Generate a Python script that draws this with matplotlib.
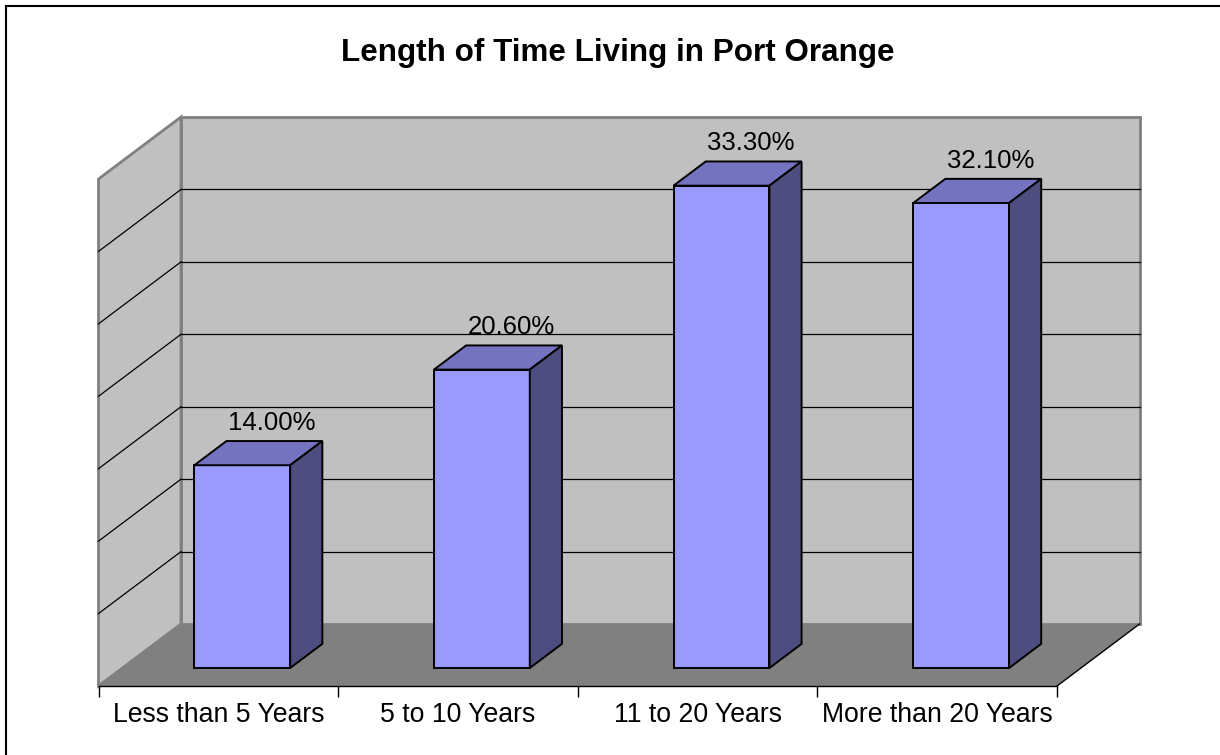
import numpy as np
import matplotlib
matplotlib.use("Agg")
import matplotlib.pyplot as plt
from matplotlib.patches import Polygon
from matplotlib.transforms import IdentityTransform

plt.rcParams["font.family"] = ["Liberation Sans", "DejaVu Sans"]

# ── Data ────────────────────────────────────────────────────────────────────
categories = ["Less than 5 Years", "5 to 10 Years", "11 to 20 Years", "More than 20 Years"]
values     = [14.0, 20.6, 33.3, 32.1]
labels     = ["14.00%", "20.60%", "33.30%", "32.10%"]
title      = "Length of Time Living in Port Orange"

# ── Style / pseudo-3D geometry ──────────────────────────────────────────────
W, H, DPI = 1220, 755, 100
DEPTH_DX, DEPTH_DY = 82.5, 62.0      # px shift from front plane to back wall
D0, D1 = 0.29, 0.68                  # bar front / back as fraction of depth
HALF_W = 0.20                        # half bar width in category units
YMAX, YSTEP = 35, 5

FRONT, TOP, SIDE = "#9999FF", "#7373C0", "#4D4D80"
WALL, FLOOR, WALL_EDGE = "#C0C0C0", "#808080", "#808080"

fig = plt.figure(figsize=(W / DPI, H / DPI), dpi=DPI)
# axes = front plane of the floor/left wall
ax = fig.add_axes([98.5 / W, (H - 686) / H, (1057 - 98.5) / W, 507 / H])
n = len(categories)
ax.set_xlim(-0.5, n - 0.5)
ax.set_ylim(0, YMAX)
ax.patch.set_visible(False)
for s in ("top", "right", "left"):
    ax.spines[s].set_visible(False)
ax.spines["bottom"].set_linewidth(1.0)
ax.spines["bottom"].set_zorder(6)
ax.set_yticks([])
ax.set_xticks(np.arange(n + 1) - 0.5)
ax.set_xticklabels([])
ax.set_xticks(np.arange(n), minor=True)
ax.set_xticklabels(categories, minor=True, fontsize=19.2)
ax.tick_params(axis="x", which="major", length=8, width=1.0, direction="out")
ax.tick_params(axis="x", which="minor", length=0, pad=11.5)


def proj(x, y, d):
    """data (x, y) at depth fraction d -> display pixels"""
    px, py = ax.transData.transform((x, y))
    return px + d * DEPTH_DX, py + d * DEPTH_DY


def face(pts, color, edge, lw, z):
    poly = Polygon([proj(*p) for p in pts], closed=True, facecolor=color,
                   edgecolor=edge, linewidth=lw, transform=IdentityTransform(),
                   clip_on=False, zorder=z)
    ax.add_artist(poly)


x0, x1 = -0.5, n - 0.5
# walls and floor
face([(x0, 0, 1), (x1, 0, 1), (x1, YMAX, 1), (x0, YMAX, 1)], WALL, WALL_EDGE, 2.0, 1)
face([(x0, 0, 0), (x0, 0, 1), (x0, YMAX, 1), (x0, YMAX, 0)], WALL, WALL_EDGE, 2.0, 1)
face([(x0, 0, 0), (x1, 0, 0), (x1, 0, 1), (x0, 0, 1)], FLOOR, "none", 0, 2)

# floor right edge
p, q = proj(x1, 0, 0), proj(x1, 0, 1)
ax.add_line(plt.Line2D([p[0], q[0]], [p[1], q[1]], color="black", lw=1.0,
                       transform=IdentityTransform(), clip_on=False, zorder=3))

# gridlines on back and left walls
for g in range(YSTEP, YMAX, YSTEP):
    for a, b in [((x0, g, 1), (x1, g, 1)), ((x0, g, 0), (x0, g, 1))]:
        p, q = proj(*a), proj(*b)
        ax.add_line(plt.Line2D([p[0], q[0]], [p[1], q[1]], color="black", lw=0.9,
                               transform=IdentityTransform(), clip_on=False, zorder=3))

# bars
for i, v in enumerate(values):
    l, r = i - HALF_W, i + HALF_W
    face([(l, 0, D0), (r, 0, D0), (r, v, D0), (l, v, D0)], FRONT, "black", 1.4, 4)
    face([(l, v, D0), (r, v, D0), (r, v, D1), (l, v, D1)], TOP, "black", 1.4, 4)
    face([(r, 0, D0), (r, 0, D1), (r, v, D1), (r, v, D0)], SIDE, "black", 1.4, 4)
    tx, ty = proj(i, v, D1)
    ax.text(tx - 3, ty + 11, labels[i], transform=IdentityTransform(),
            ha="center", va="baseline", fontsize=18.5, zorder=5)

fig.text(618 / W, 1 - 53 / H, title, ha="center", va="center",
         fontsize=22.6, fontweight="bold")

# chart area border (top and left visible)
fig.add_artist(plt.Line2D([6 / W, 1], [1 - 6 / H, 1 - 6 / H], color="black",
                          lw=1.5, transform=fig.transFigure))
fig.add_artist(plt.Line2D([6 / W, 6 / W], [0, 1 - 6 / H], color="black",
                          lw=1.5, transform=fig.transFigure))

fig.savefig("out.png", dpi=DPI)
